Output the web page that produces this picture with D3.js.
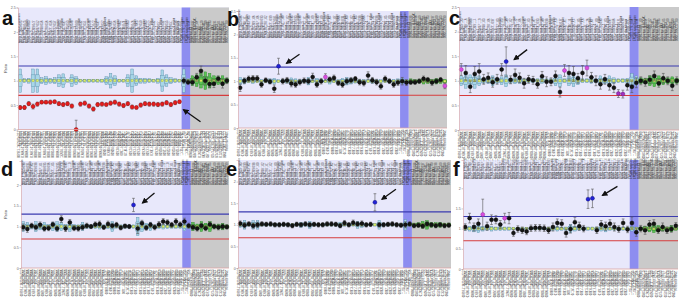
<!DOCTYPE html>
<html>
<head>
<meta charset="utf-8">
<script src="https://cdn.jsdelivr.net/npm/d3@7"></script>
<style>
  body { margin: 0; background: #fff; }
  svg { display: block; font-family: "Liberation Sans", Arial, sans-serif; }
</style>
</head>
<body>
<div id="my_dataviz"></div>
<script>
// probe ids (bottom labels), shared by the six panels
const probeIds = [
  "00797-L13623","01686-L01268","00886-L00463","01687-L01269","00890-L00467","00891-L00468","01688-L01270","00894-L00471","00895-L00472","00896-L00473",
  "13260-L14621","00898-L00475","00899-L00476","00900-L00477","00901-L00478","01689-L01271","00903-L00480","00904-L00481","00905-L00482","00906-L00483",
  "00907-L00484","01690-L01272","00909-L00486","00910-L00487","00911-L00488","04184-L03456","00913-L00490","00914-L00491","00915-L00492","00916-L00493",
  "00917-L00494","01691-L01273","00919-L00496","00920-L00497","00921-L00498","00922-L00499","00923-L00500","00924-L00501",
  "11455-L12161","11456-L12162",
  "00980-L00566","05845-L05283","01263-L00806","08264-L08151","03716-L03132","02444-L01903","04549-L03937","01324-L00875","06631-L06215"
];
// probe names (top labels)
const probeNames = [
  "MLH1 probe 01 upstream","MLH1 exon 1","MLH1 exon 2 region","MLH1 ex 3","MLH1 ex 4","MLH1 ex 5","MLH1 ex 6","MLH1 ex 7","MLH1 ex 8","MLH1 exon 9 region",
  "MLH1 exon 10 region","MLH1 exon 11","MLH1 exon 12 region","MLH1 exon 13","MLH1 exon 14 region","MLH1 exon 15","MLH1 exon 16 region","MLH1 exon 17","MLH1 exon 18 region","MLH1 exon 19",
  "MSH2 probe upstream","MSH2 exon 1 region","MSH2 exon 2","MSH2 exon 3 region","MSH2 exon 4","MSH2 exon 5 region","MSH2 exon 6","MSH2 exon 7 region","MSH2 exon 8","MSH2 exon 9 region",
  "MSH2 exon 10","MSH2 exon 11 region","MSH2 exon 12","MSH2 exon 13 region","MSH2 exon 14","MSH2 exon 15","MSH2 exon 16 region","MSH2 downstream",
  "EPCAM exon 3 region","EPCAM exon 9 region",
  "Reference IL3","Reference HLA-DQA1","Reference ABL1","Reference CCND1","Reference ERBB3","Reference MAX","Reference TP53","Reference APOE","Reference COMT"
];
const chromBands = [
  "03p22.2","03p22.2","03p22.2","03p22.2","03p22.2","03p22.2","03p22.2","03p22.2","03p22.2","03p22.2",
  "03p22.2","03p22.2","03p22.2","03p22.2","03p22.2","03p22.2","03p22.2","03p22.2","03p22.2","03p22.2",
  "02p21","02p21","02p21","02p21","02p21","02p21","02p21","02p21","02p21","02p21",
  "02p21","02p21","02p21","02p21","02p21","02p21","02p21","02p21",
  "02p21","02p21",
  "05q31.1","06p21.3","09q34.1","11q13.3","12q13.2","14q23.3","17p13.1","19q13.3","22q11.2"
];

// layout of the probe groups: 38 test probes, 2 highlighted probes, 9 reference probes
const bandIdx = [38, 39];
const refStart = 40;
const upperCut = 1.3, lowerCut = 0.7;
const yTicksTop = [0, 0.5, 1, 1.5, 2, 2.5];
const yTicksBottom = [0, 0.5, 1, 1.5, 2];

// panel a
const aVals = [0.45,0.45,0.53,0.47,0.52,0.56,0.56,0.56,0.57,0.53,
  0.51,0.53,0.48,0.00,0.52,0.54,0.48,0.42,0.51,0.52,
  0.51,0.54,0.56,0.52,0.49,0.53,0.46,0.45,0.50,0.53,
  0.52,0.52,0.51,0.52,0.55,0.51,0.55,0.57,
  1.00,0.97,
  0.97,1.07,1.20,1.00,0.93,0.94,1.04,0.94,1.00];
const aErrs = [0.04,0.04,0.04,0.05,0.04,0.03,0.03,0.04,0.03,0.04,
  0.04,0.04,0.04,0.19,0.04,0.04,0.04,0.04,0.04,0.04,
  0.03,0.04,0.04,0.04,0.04,0.04,0.04,0.03,0.04,0.04,
  0.04,0.04,0.04,0.04,0.04,0.04,0.04,0.03,
  0.06,0.05,
  0.06,0.08,0.10,0.07,0.07,0.08,0.06,0.09,0.06];
const aBoxes = [0.24,0.04,0.05,0.24,0.24,0.06,0.08,0.05,0.06,0.12,
  0.14,0.03,0.12,0.08,0.03,0.03,0.03,0.03,0.03,0.03,
  0.08,0.15,0.10,0.03,0.03,0.12,0.24,0.10,0.05,0.05,
  0.04,0.03,0.05,0.22,0.12,0.06,0.04,0.03,
  0.24,0.05,
  0.10,0.12,0.15,0.18,0.15,0.10,0.08,0.10,0.05];

// panel b
const bVals = [0.86,1.01,1.05,1.06,1.06,0.93,1.02,0.99,0.84,1.32,
  1.00,1.02,0.95,0.93,0.98,1.01,1.00,1.09,0.93,1.00,
  1.09,1.04,1.07,0.96,0.93,1.00,1.02,1.05,0.98,0.96,
  1.12,1.02,0.98,0.89,1.05,1.00,0.93,0.97,
  1.00,0.97,
  0.98,0.98,1.00,1.05,1.03,0.97,1.00,1.03,0.90];
const bErrs = [0.08,0.06,0.06,0.06,0.06,0.06,0.05,0.05,0.08,0.17,
  0.06,0.06,0.07,0.06,0.06,0.06,0.06,0.08,0.06,0.06,
  0.07,0.05,0.06,0.05,0.06,0.06,0.06,0.05,0.06,0.06,
  0.08,0.06,0.06,0.06,0.06,0.05,0.06,0.06,
  0.08,0.06,
  0.05,0.05,0.05,0.06,0.05,0.06,0.05,0.05,0.06];
const bBoxes = [0.08,0.06,0.03,0.05,0.03,0.04,0.03,0.05,0.06,0.03,
  0.03,0.04,0.07,0.05,0.03,0.03,0.08,0.03,0.06,0.03,
  0.03,0.06,0.03,0.03,0.06,0.08,0.06,0.04,0.03,0.03,
  0.03,0.05,0.03,0.03,0.03,0.03,0.04,0.05,
  0.06,0.03,
  0.05,0.03,0.04,0.06,0.05,0.04,0.06,0.05,0.04];

// panel c
const cVals = [1.23,1.16,0.88,1.14,1.19,1.03,1.06,0.97,1.03,1.23,
  1.39,1.02,1.12,1.06,0.95,1.03,1.01,0.93,1.09,0.98,
  0.98,1.10,0.77,1.21,1.16,1.14,1.05,1.16,1.26,1.07,
  1.00,0.93,1.03,0.91,0.86,0.74,0.73,0.91,
  0.88,0.96,
  1.00,0.97,1.02,1.10,0.95,1.05,1.00,0.90,1.00];
const cErrs = [0.12,0.15,0.12,0.15,0.16,0.10,0.10,0.10,0.10,0.12,
  0.30,0.08,0.12,0.10,0.10,0.08,0.08,0.08,0.10,0.10,
  0.08,0.10,0.10,0.12,0.15,0.15,0.10,0.15,0.16,0.10,
  0.10,0.10,0.10,0.10,0.10,0.08,0.08,0.10,
  0.12,0.10,
  0.08,0.08,0.08,0.10,0.08,0.10,0.08,0.10,0.08];
const cBoxes = [0.10,0.15,0.12,0.15,0.10,0.05,0.06,0.10,0.05,0.08,
  0.12,0.05,0.06,0.05,0.04,0.04,0.04,0.04,0.05,0.04,
  0.04,0.10,0.12,0.04,0.10,0.12,0.08,0.04,0.04,0.05,
  0.04,0.10,0.06,0.10,0.06,0.04,0.04,0.05,
  0.15,0.10,
  0.06,0.05,0.10,0.12,0.10,0.08,0.06,0.08,0.05];

// panel d
const dVals = [0.98,0.94,1.02,0.98,1.04,0.95,0.96,1.05,0.95,1.18,
  0.95,1.10,0.96,0.95,0.98,1.02,1.00,1.05,1.06,0.98,
  1.06,1.02,1.04,0.97,1.01,1.00,1.52,0.95,1.08,0.97,
  1.04,0.98,1.05,1.12,1.10,1.04,1.12,1.05,
  1.12,1.02,
  0.98,0.95,1.02,0.96,1.05,1.00,0.98,1.00,0.99];
const dErrs = [0.08,0.08,0.06,0.06,0.07,0.06,0.06,0.06,0.06,0.08,
  0.07,0.07,0.06,0.06,0.06,0.06,0.05,0.06,0.07,0.05,
  0.07,0.06,0.06,0.05,0.05,0.05,0.16,0.12,0.07,0.06,
  0.06,0.06,0.07,0.07,0.06,0.06,0.07,0.06,
  0.08,0.06,
  0.06,0.06,0.06,0.06,0.06,0.06,0.06,0.06,0.05];
const dBoxes = [0.12,0.10,0.06,0.12,0.08,0.10,0.05,0.10,0.12,0.10,
  0.05,0.12,0.05,0.04,0.10,0.05,0.04,0.05,0.06,0.04,
  0.05,0.12,0.04,0.04,0.04,0.04,0.04,0.22,0.12,0.08,
  0.10,0.04,0.05,0.06,0.05,0.04,0.04,0.04,
  0.10,0.05,
  0.10,0.06,0.12,0.08,0.12,0.05,0.06,0.08,0.04];

// panel e
const eVals = [1.03,0.99,1.02,0.98,1.00,1.02,1.01,1.02,1.00,1.00,
  1.01,1.00,0.98,1.01,1.00,1.02,1.00,1.01,1.00,1.00,
  1.02,1.02,1.01,0.98,1.04,1.00,1.05,1.02,1.03,1.00,
  1.01,1.52,1.00,1.00,1.01,1.02,1.00,0.99,
  1.00,1.02,
  0.98,0.99,0.97,1.02,1.00,0.98,1.00,0.98,0.99];
const eErrs = [0.06,0.06,0.05,0.06,0.06,0.05,0.05,0.05,0.05,0.05,
  0.05,0.05,0.05,0.05,0.05,0.05,0.05,0.05,0.05,0.05,
  0.05,0.05,0.05,0.05,0.06,0.05,0.06,0.05,0.06,0.05,
  0.05,0.20,0.05,0.05,0.05,0.05,0.05,0.05,
  0.07,0.05,
  0.05,0.05,0.05,0.05,0.05,0.05,0.05,0.05,0.05];
const eBoxes = [0.06,0.10,0.03,0.10,0.10,0.03,0.03,0.03,0.03,0.03,
  0.03,0.03,0.03,0.03,0.06,0.03,0.08,0.03,0.03,0.03,
  0.03,0.03,0.03,0.06,0.03,0.03,0.03,0.08,0.06,0.03,
  0.03,0.03,0.10,0.04,0.03,0.03,0.03,0.03,
  0.12,0.03,
  0.04,0.05,0.08,0.10,0.06,0.05,0.06,0.04,0.04];

// panel f
const fVals = [1.04,1.26,1.04,1.12,1.35,1.06,1.22,1.22,1.10,1.26,
  1.26,0.89,0.99,0.96,0.93,1.01,1.02,1.02,1.01,0.96,
  1.04,1.14,1.12,0.89,0.99,1.16,1.06,1.00,1.73,1.75,
  0.96,1.10,1.06,1.12,1.04,0.99,1.14,0.98,
  1.14,0.91,
  1.00,0.96,1.10,1.12,0.96,1.04,0.96,0.99,1.07];
const fErrs = [0.08,0.12,0.10,0.12,0.38,0.10,0.12,0.10,0.10,0.12,
  0.14,0.08,0.08,0.08,0.08,0.08,0.08,0.08,0.08,0.08,
  0.10,0.10,0.10,0.10,0.10,0.12,0.10,0.08,0.23,0.23,
  0.08,0.10,0.10,0.10,0.10,0.08,0.10,0.08,
  0.15,0.10,
  0.08,0.10,0.10,0.10,0.08,0.10,0.08,0.08,0.08];
const fBoxes = [0.04,0.06,0.08,0.10,0.06,0.04,0.06,0.04,0.05,0.04,
  0.04,0.03,0.03,0.03,0.03,0.03,0.03,0.03,0.03,0.03,
  0.05,0.06,0.04,0.04,0.10,0.06,0.04,0.04,0.04,0.04,
  0.04,0.06,0.08,0.04,0.04,0.04,0.04,0.04,
  0.06,0.04,
  0.04,0.06,0.08,0.10,0.08,0.06,0.04,0.08,0.04];

// flagged points (index -> colour kind), everything else black
const aMarks = {};
const bMarks = {9: "blue", 20: "pink", 48: "pink"};
const cMarks = {0: "pink", 10: "blue", 23: "pink", 28: "pink", 35: "purple", 36: "purple"};
const dMarks = {26: "blue"};
const eMarks = {31: "blue"};
const fMarks = {4: "pink", 9: "pink", 28: "blue", 29: "blue"};

var colors = {
  red: ["#e51c1c", "#7a0a0a"],
  black: ["#141414", "#000"],
  blue: ["#2222d6", "#0a0a70"],
  pink: ["#d84ee0", "#8a208f"],
  purple: ["#a030c0", "#5a1070"]
};

// set the dimensions of the figure
var W = 685, H = 298;

var svg = d3.select("#my_dataviz")
  .append("svg")
  .attr("width", W)
  .attr("height", H);

var defs = svg.append("defs");
defs.append("marker")
  .attr("id", "arrowhead")
  .attr("viewBox", "0 0 10 10")
  .attr("refX", 8).attr("refY", 5)
  .attr("markerWidth", 6).attr("markerHeight", 6)
  .attr("markerUnits", "userSpaceOnUse")
  .attr("orient", "auto")
  .append("path")
  .attr("d", "M0,0 L10,5 L0,10 Z")
  .style("fill", "#111");

// labelBase: where the hanging probe labels end (they grow upward from there)
var panels = [
  {letter: "a", lx: 2, ly: 25, vals: aVals, errs: aErrs, boxes: aBoxes, marks: aMarks, redCount: 38,
   x0: 18, x1: 229, y0: 7.5, y1: 129.5, yMax: 2.5, ticks: yTicksTop, title: true, labelBase: 43,
   arrow: {i: 37, hx: 4, hy: 8, tx: 21, ty: 20}},
  {letter: "b", lx: 227, ly: 26, vals: bVals, errs: bErrs, boxes: bBoxes, marks: bMarks, redCount: 0,
   x0: 238, x1: 447, y0: 11, y1: 128, yMax: 2.5, ticks: yTicksTop, title: false, labelBase: 38,
   arrow: {i: 9, hx: 8, hy: -3, tx: 21, ty: -12}},
  {letter: "c", lx: 449, ly: 25, vals: cVals, errs: cErrs, boxes: cBoxes, marks: cMarks, redCount: 0,
   x0: 459, x1: 679, y0: 7, y1: 130, yMax: 2.5, ticks: yTicksTop, title: false, labelBase: 41,
   arrow: {i: 10, hx: 8, hy: -2, tx: 21, ty: -12}},
  {letter: "d", lx: 1, ly: 176, vals: dVals, errs: dErrs, boxes: dBoxes, marks: dMarks, redCount: 0,
   x0: 21, x1: 229, y0: 161, y1: 268, yMax: 2.58, ticks: yTicksBottom, title: true, labelBase: 185,
   arrow: {i: 26, hx: 9, hy: -2, tx: 21, ty: -12}},
  {letter: "e", lx: 226, ly: 176, vals: eVals, errs: eErrs, boxes: eBoxes, marks: eMarks, redCount: 0,
   x0: 238, x1: 451, y0: 160, y1: 268, yMax: 2.5, ticks: yTicksBottom, title: false, labelBase: 185,
   arrow: {i: 31, hx: 7, hy: -3, tx: 21, ty: -13}},
  {letter: "f", lx: 453, ly: 176, vals: fVals, errs: fErrs, boxes: fBoxes, marks: fMarks, redCount: 0,
   x0: 463, x1: 678, y0: 160, y1: 269, yMax: 2.7, ticks: yTicksBottom, title: false, labelBase: 179,
   arrow: {i: 29, hx: 10, hy: -3, tx: 25, ty: -12}}
];

panels.forEach(drawPanel);

function drawPanel(p) {
  var n = p.vals.length;
  var x = d3.scaleBand().domain(d3.range(n)).range([p.x0, p.x1]);
  var y = d3.scaleLinear().domain([0, p.yMax]).range([p.y1, p.y0]);
  var cx = function(i) { return x(i) + x.bandwidth() / 2; };
  var bw = x.bandwidth();
  var idx = d3.range(n);

  // keep the hanging labels inside the plot frame
  defs.append("clipPath").attr("id", "clip-" + p.letter)
    .append("rect")
    .attr("x", p.x0).attr("y", p.y0 - 1.5)
    .attr("width", p.x1 - p.x0).attr("height", p.y1 - p.y0 + 1.5);

  var g = svg.append("g");

  // plot backgrounds: lavender, grey reference area, blue highlighted band
  g.append("rect")
    .attr("x", p.x0).attr("y", p.y0)
    .attr("width", p.x1 - p.x0).attr("height", p.y1 - p.y0)
    .style("fill", "#e8e8fb");
  g.append("rect")
    .attr("x", x(refStart)).attr("y", p.y0)
    .attr("width", p.x1 - x(refStart)).attr("height", p.y1 - p.y0)
    .style("fill", "#cacaca");
  g.append("rect")
    .attr("x", x(bandIdx[0])).attr("y", p.y0)
    .attr("width", x.step() * bandIdx.length).attr("height", p.y1 - p.y0)
    .style("fill", "#8d8df0");

  // probe names standing on a common base line near the top
  var tl = g.append("g").attr("clip-path", "url(#clip-" + p.letter + ")");
  tl.selectAll(".top1").data(idx).enter().append("text")
    .attr("transform", function(i) { return "translate(" + (cx(i) - 0.4) + "," + p.labelBase + ") rotate(-90)"; })
    .attr("text-anchor", "start")
    .style("font-size", "2.6px").style("fill", "#2a2a2a")
    .text(function(i) { return probeNames[i]; });
  tl.selectAll(".top2").data(idx).enter().append("text")
    .attr("transform", function(i) { return "translate(" + (cx(i) + 1.6) + "," + p.labelBase + ") rotate(-90)"; })
    .attr("text-anchor", "start")
    .style("font-size", "2.6px").style("fill", "#3a3a3a")
    .text(function(i) { return probeIds[i] + " " + d3.format(".2f")(p.vals[i]); });

  // cut-off lines and median line
  g.append("line")
    .attr("x1", p.x0).attr("x2", p.x1)
    .attr("y1", y(upperCut)).attr("y2", y(upperCut))
    .style("stroke", "#3b3bb0").style("stroke-width", 1.1);
  g.append("line")
    .attr("x1", p.x0).attr("x2", p.x1)
    .attr("y1", y(lowerCut)).attr("y2", y(lowerCut))
    .style("stroke", "#d63c3c").style("stroke-width", 1.1);
  g.append("line")
    .attr("x1", p.x0).attr("x2", p.x1)
    .attr("y1", y(1)).attr("y2", y(1))
    .style("stroke", "#b0a23a").style("stroke-width", 0.8);

  // reference boxes around 1
  var isRef = function(i) { return i >= refStart; };
  g.selectAll(".boxOuter").data(idx).enter().append("rect")
    .attr("x", function(i) { return cx(i) - bw * 0.3; })
    .attr("width", bw * 0.6)
    .attr("y", function(i) { return y(1 + p.boxes[i]); })
    .attr("height", function(i) { return y(1 - p.boxes[i]) - y(1 + p.boxes[i]); })
    .style("fill", function(i) { return isRef(i) ? "#5cc257" : "#a8d6e8"; })
    .style("stroke", function(i) { return isRef(i) ? "#2c842a" : "#5a8ca8"; })
    .style("stroke-width", 0.4);
  g.selectAll(".boxInner").data(idx).enter().append("rect")
    .attr("x", function(i) { return cx(i) - bw * 0.45; })
    .attr("width", bw * 0.9)
    .attr("y", function(i) { return y(1 + p.boxes[i] * 0.5); })
    .attr("height", function(i) { return y(1 - p.boxes[i] * 0.5) - y(1 + p.boxes[i] * 0.5); })
    .style("fill", function(i) { return isRef(i) ? "#5cc257" : "#a8d6e8"; })
    .style("stroke", function(i) { return isRef(i) ? "#2c842a" : "#5a8ca8"; })
    .style("stroke-width", 0.4);
  g.selectAll(".boxMid").data(idx).enter().append("rect")
    .attr("x", function(i) { return cx(i) - 1.1; })
    .attr("y", y(1) - 1.1)
    .attr("width", 2.2).attr("height", 2.2)
    .style("fill", "#dcee6c").style("stroke", "#8c9a30").style("stroke-width", 0.3);

  // error bars
  var lo = function(i) { return y(Math.max(0, p.vals[i] - p.errs[i])); };
  var hi = function(i) { return y(p.vals[i] + p.errs[i]); };
  g.selectAll(".err").data(idx).enter().append("line")
    .attr("x1", cx).attr("x2", cx)
    .attr("y1", lo).attr("y2", hi)
    .style("stroke", "#555").style("stroke-width", 0.6);
  g.selectAll(".capHi").data(idx).enter().append("line")
    .attr("x1", function(i) { return cx(i) - 1.4; }).attr("x2", function(i) { return cx(i) + 1.4; })
    .attr("y1", hi).attr("y2", hi)
    .style("stroke", "#555").style("stroke-width", 0.6);
  g.selectAll(".capLo").data(idx).enter().append("line")
    .attr("x1", function(i) { return cx(i) - 1.4; }).attr("x2", function(i) { return cx(i) + 1.4; })
    .attr("y1", lo).attr("y2", lo)
    .style("stroke", "#555").style("stroke-width", 0.6);

  // sample ratios
  var kind = function(i) { return p.marks[i] || (i < p.redCount ? "red" : "black"); };
  g.selectAll(".pt").data(idx).enter().append("circle")
    .attr("cx", cx)
    .attr("cy", function(i) { return y(p.vals[i]); })
    .attr("r", 2)
    .style("fill", function(i) { return colors[kind(i)][0]; })
    .style("stroke", function(i) { return colors[kind(i)][1]; })
    .style("stroke-width", 0.4);

  // axes
  var ya = g.append("g")
    .attr("transform", "translate(" + p.x0 + ",0)")
    .call(d3.axisLeft(y).tickValues(p.ticks).tickSize(1.5).tickFormat(d3.format("")));
  ya.select(".domain").style("stroke", "#d9a3a3").style("stroke-width", 0.6);
  ya.selectAll(".tick line").style("stroke", "#999").style("stroke-width", 0.5);
  ya.selectAll("text").style("font-size", "3.6px").style("fill", "#666").attr("x", -2.2);
  g.append("line")
    .attr("x1", p.x0).attr("x2", p.x1)
    .attr("y1", p.y1).attr("y2", p.y1)
    .style("stroke", "#d9a3a3").style("stroke-width", 0.8);

  // probe ids under the axis
  g.selectAll(".bot1").data(idx).enter().append("text")
    .attr("transform", function(i) { return "translate(" + (cx(i) - 0.4) + "," + (p.y1 + 1.5) + ") rotate(-90)"; })
    .attr("text-anchor", "end")
    .style("font-size", "2.6px").style("fill", "#333")
    .text(function(i) { return probeIds[i] + " " + chromBands[i]; });
  g.selectAll(".bot2").data(idx).enter().append("text")
    .attr("transform", function(i) { return "translate(" + (cx(i) + 1.6) + "," + (p.y1 + 1.5) + ") rotate(-90)"; })
    .attr("text-anchor", "end")
    .style("font-size", "2.6px").style("fill", "#444")
    .text(function(i) { return probeNames[i].split(" ")[0] + " " + probeIds[i].slice(0, 5); });

  if (p.title) {
    g.append("text")
      .attr("transform", "translate(7," + ((p.y0 + p.y1) / 2) + ") rotate(-90)")
      .attr("text-anchor", "middle")
      .style("font-size", "3.8px").style("fill", "#444")
      .text("Ratio");
  }

  // arrow pointing at the flagged probe
  var a = p.arrow;
  var ax = cx(a.i), ay = y(p.vals[a.i]);
  g.append("line")
    .attr("x1", ax + a.tx).attr("y1", ay + a.ty)
    .attr("x2", ax + a.hx).attr("y2", ay + a.hy)
    .attr("marker-end", "url(#arrowhead)")
    .style("stroke", "#111").style("stroke-width", 1.3);

  // panel letter
  svg.append("text")
    .attr("x", p.lx).attr("y", p.ly)
    .style("font-size", "20px").style("font-weight", "bold").style("fill", "#111")
    .text(p.letter);
}
</script>
</body>
</html>
